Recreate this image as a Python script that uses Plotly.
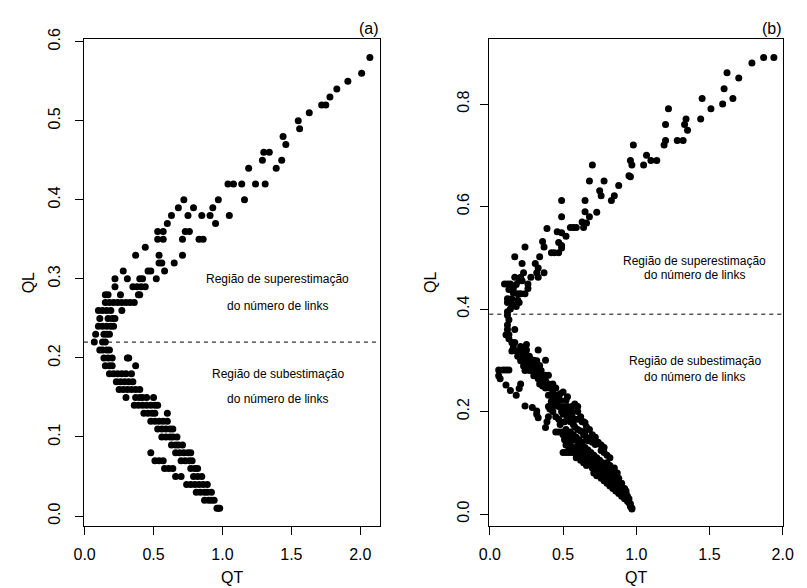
import plotly.graph_objects as go

# ---------------- Panel (a): QL levels and the QT values read on each level
rows_a_lower = [
    (0.01, [0.96, 0.97, 0.98]),
    (0.02, [0.87, 0.90, 0.92, 0.94]),
    (0.03, [0.81, 0.84, 0.87, 0.89, 0.92]),
    (0.04, [0.74, 0.77, 0.80, 0.83, 0.86, 0.89]),
    (0.05, [0.66, 0.70, 0.79, 0.82, 0.85]),
    (0.06, [0.58, 0.61, 0.64, 0.77, 0.80, 0.82]),
    (0.07, [0.51, 0.54, 0.57, 0.70, 0.73, 0.76, 0.78]),
    (0.08, [0.48, 0.66, 0.69, 0.72, 0.75, 0.77]),
    (0.09, [0.63, 0.66, 0.68, 0.71]),
    (0.10, [0.56, 0.59, 0.62, 0.64, 0.67]),
    (0.11, [0.53, 0.56, 0.59, 0.62, 0.64]),
    (0.12, [0.48, 0.51, 0.54, 0.57, 0.60]),
    (0.13, [0.43, 0.46, 0.49, 0.51, 0.60]),
    (0.14, [0.36, 0.39, 0.42, 0.45, 0.48, 0.51, 0.53]),
    (0.15, [0.30, 0.37, 0.40, 0.42, 0.45, 0.50]),
    (0.16, [0.25, 0.28, 0.31, 0.34, 0.37, 0.40]),
    (0.17, [0.23, 0.26, 0.29, 0.32, 0.35]),
    (0.18, [0.18, 0.21, 0.24, 0.27, 0.30, 0.34]),
    (0.19, [0.15, 0.18, 0.20, 0.37]),
    (0.20, [0.14, 0.17, 0.20, 0.31, 0.32]),
    (0.21, [0.11, 0.13, 0.16, 0.18]),
]
rows_a_bend = [
    (0.22, [0.07, 0.13, 0.15]),
    (0.23, [0.08, 0.14, 0.16, 0.18]),
    (0.24, [0.10, 0.13, 0.16, 0.19, 0.21]),
    (0.25, [0.11, 0.17, 0.20, 0.22]),
    (0.26, [0.10, 0.13, 0.16, 0.19, 0.27]),
    (0.27, [0.15, 0.18, 0.21, 0.24, 0.27, 0.30, 0.33, 0.36]),
    (0.28, [0.15, 0.17, 0.26, 0.39, 0.40]),
    (0.29, [0.22, 0.35, 0.38, 0.41, 0.44]),
    (0.30, [0.22, 0.31, 0.40, 0.42, 0.52]),
    (0.31, [0.28, 0.46, 0.48, 0.58]),
]
rows_a_upper = [
    (0.32, [0.54, 0.56, 0.65]),
    (0.33, [0.37, 0.54, 0.71]),
    (0.34, [0.44]),
    (0.35, [0.53, 0.57, 0.71, 0.83, 0.86]),
    (0.36, [0.53, 0.57, 0.73, 0.76]),
    (0.37, [0.60, 0.95]),
    (0.38, [0.63, 0.75, 0.85, 0.91, 1.05]),
    (0.39, [0.68, 0.79, 0.93]),
    (0.40, [0.72, 0.97, 1.16]),
    (0.42, [1.04, 1.08, 1.14, 1.24, 1.31]),
    (0.44, [1.19, 1.39]),
    (0.45, [1.29, 1.43]),
    (0.46, [1.30, 1.34]),
    (0.47, [1.46]),
    (0.48, [1.44]),
    (0.49, [1.56]),
    (0.50, [1.55]),
    (0.51, [1.63]),
    (0.52, [1.72, 1.75]),
    (0.53, [1.78]),
    (0.54, [1.83]),
    (0.55, [1.91]),
    (0.56, [2.01]),
    (0.58, [2.07]),
]

# ---------------- Panel (b): (QT, QL) points
pts_b_upper = [
    (1.94, 0.891), (1.87, 0.891), (1.79, 0.880), (1.62, 0.861), (1.70, 0.851),
    (1.60, 0.830), (1.45, 0.811), (1.66, 0.811), (1.59, 0.800), (1.51, 0.791),
    (1.22, 0.791), (1.44, 0.771), (1.34, 0.771), (1.33, 0.760), (1.20, 0.760),
    (1.35, 0.749), (1.28, 0.729), (1.32, 0.729), (1.20, 0.729), (1.19, 0.720),
    (0.98, 0.720), (1.14, 0.690), (1.10, 0.690), (1.07, 0.700), (1.05, 0.681),
    (0.96, 0.690), (0.97, 0.681), (0.95, 0.660), (0.96, 0.658), (0.88, 0.641),
    (0.85, 0.621), (0.83, 0.612), (0.78, 0.650), (0.70, 0.681), (0.68, 0.650),
    (0.76, 0.621), (0.75, 0.631), (0.65, 0.612), (0.73, 0.589), (0.65, 0.590),
    (0.49, 0.612), (0.49, 0.580), (0.68, 0.580), (0.63, 0.570), (0.66, 0.568),
    (0.64, 0.559), (0.57, 0.559), (0.59, 0.559), (0.55, 0.559),
]
pts_b_bend = [
    (0.52, 0.542), (0.49, 0.549), (0.46, 0.551), (0.47, 0.530), (0.49, 0.524),
    (0.49, 0.519), (0.47, 0.510), (0.44, 0.510), (0.42, 0.510), (0.39, 0.557),
    (0.36, 0.532), (0.37, 0.521), (0.34, 0.502), (0.31, 0.489), (0.33, 0.480),
    (0.24, 0.521), (0.17, 0.502), (0.22, 0.489), (0.37, 0.471), (0.32, 0.471),
    (0.33, 0.462), (0.28, 0.462), (0.23, 0.471), (0.17, 0.462), (0.21, 0.462),
    (0.26, 0.449), (0.26, 0.440), (0.10, 0.449), (0.12, 0.449), (0.14, 0.449),
    (0.16, 0.440), (0.19, 0.430), (0.21, 0.430), (0.24, 0.430), (0.12, 0.420),
    (0.15, 0.420), (0.19, 0.417), (0.16, 0.432), (0.13, 0.438), (0.18, 0.448),
    (0.20, 0.455), (0.22, 0.455),
    (0.12, 0.413), (0.15, 0.410), (0.18, 0.405), (0.20, 0.413), (0.14, 0.400),
    (0.12, 0.395), (0.12, 0.388), (0.13, 0.379), (0.12, 0.369), (0.12, 0.360),
    (0.17, 0.360), (0.11, 0.350), (0.13, 0.350), (0.13, 0.342), (0.15, 0.335),
    (0.17, 0.335), (0.16, 0.326), (0.21, 0.327), (0.25, 0.331), (0.15, 0.318),
    (0.18, 0.318), (0.21, 0.318), (0.23, 0.318), (0.33, 0.320), (0.25, 0.320),
    (0.19, 0.308), (0.22, 0.308), (0.25, 0.308), (0.27, 0.308), (0.21, 0.299),
    (0.24, 0.299), (0.27, 0.299), (0.30, 0.300), (0.32, 0.299), (0.38, 0.300),
    (0.23, 0.289), (0.26, 0.289), (0.29, 0.289), (0.33, 0.289), (0.24, 0.280),
    (0.27, 0.280), (0.29, 0.280), (0.31, 0.280), (0.35, 0.280), (0.30, 0.270),
    (0.34, 0.290),
]
pts_b_hook = [
    (0.06, 0.281), (0.09, 0.281), (0.11, 0.281), (0.13, 0.281), (0.06, 0.270),
    (0.07, 0.264), (0.11, 0.252), (0.14, 0.241), (0.21, 0.254), (0.20, 0.245),
    (0.18, 0.232),
]
pts_b_lower = [
    (0.32, 0.271), (0.35, 0.271), (0.38, 0.271), (0.40, 0.271), (0.33, 0.264),
    (0.36, 0.264), (0.34, 0.254), (0.40, 0.254), (0.43, 0.254), (0.38, 0.246),
    (0.41, 0.246), (0.45, 0.246), (0.40, 0.232), (0.43, 0.232), (0.46, 0.232),
    (0.45, 0.222), (0.48, 0.222), (0.52, 0.222), (0.50, 0.238), (0.53, 0.229),
    (0.24, 0.211), (0.29, 0.208), (0.32, 0.201), (0.40, 0.210), (0.43, 0.210),
    (0.47, 0.210), (0.50, 0.210), (0.53, 0.210), (0.56, 0.210), (0.60, 0.210),
    (0.49, 0.200), (0.53, 0.200), (0.56, 0.200), (0.58, 0.215),
    (0.36, 0.250), (0.38, 0.260), (0.43, 0.240), (0.48, 0.235), (0.46, 0.215),
    (0.42, 0.220), (0.43, 0.200), (0.45, 0.190), (0.47, 0.185),
    (0.32, 0.195), (0.33, 0.188), (0.41, 0.205), (0.40, 0.190), (0.39, 0.180),
    (0.38, 0.169), (0.50, 0.195), (0.53, 0.190), (0.56, 0.193), (0.58, 0.185),
    (0.60, 0.185), (0.62, 0.190), (0.63, 0.180), (0.65, 0.178), (0.45, 0.160),
    (0.47, 0.160), (0.49, 0.160), (0.50, 0.155), (0.53, 0.149), (0.55, 0.139),
    (0.62, 0.162), (0.64, 0.155), (0.66, 0.150), (0.67, 0.143), (0.65, 0.160),
    (0.69, 0.145), (0.70, 0.140), (0.72, 0.136), (0.50, 0.120), (0.52, 0.120),
    (0.54, 0.120), (0.56, 0.120), (0.58, 0.130), (0.60, 0.125), (0.62, 0.120),
    (0.64, 0.115), (0.59, 0.110), (0.61, 0.110), (0.65, 0.110), (0.66, 0.105),
    (0.68, 0.100), (0.70, 0.100), (0.72, 0.097), (0.74, 0.095), (0.68, 0.110),
    (0.76, 0.124), (0.78, 0.120), (0.80, 0.115), (0.82, 0.110), (0.74, 0.090),
    (0.75, 0.085), (0.77, 0.080), (0.78, 0.078), (0.83, 0.090), (0.84, 0.085),
    (0.86, 0.080), (0.80, 0.070), (0.82, 0.065), (0.84, 0.060), (0.86, 0.060),
    (0.87, 0.065), (0.88, 0.055), (0.89, 0.050), (0.90, 0.047), (0.91, 0.045),
    (0.92, 0.038), (0.93, 0.032), (0.94, 0.028), (0.95, 0.022), (0.96, 0.020),
    (0.97, 0.012), (0.97, 0.010), (0.60, 0.200), (0.64, 0.180), (0.66, 0.170),
    (0.68, 0.165), (0.70, 0.155), (0.72, 0.150), (0.74, 0.140), (0.76, 0.135),
    (0.78, 0.130), (0.80, 0.100), (0.82, 0.095), (0.85, 0.090), (0.87, 0.080),
    (0.88, 0.070), (0.90, 0.060), (0.92, 0.050), (0.93, 0.040), (0.95, 0.030),
    (0.96, 0.015),
    (0.52, 0.135), (0.54, 0.130), (0.56, 0.128), (0.58, 0.120), (0.60, 0.115),
    (0.62, 0.105), (0.64, 0.100), (0.66, 0.095), (0.70, 0.090), (0.72, 0.088),
    (0.71, 0.080), (0.73, 0.075), (0.76, 0.070), (0.78, 0.065), (0.80, 0.060),
    (0.82, 0.055), (0.84, 0.050), (0.86, 0.045), (0.88, 0.040), (0.90, 0.035),
    (0.92, 0.030), (0.94, 0.025), (0.52, 0.165), (0.55, 0.160), (0.57, 0.155),
    (0.59, 0.150), (0.61, 0.145), (0.63, 0.140), (0.65, 0.130), (0.67, 0.125),
    (0.69, 0.120), (0.71, 0.115), (0.73, 0.110), (0.75, 0.105), (0.77, 0.100),
    (0.79, 0.090), (0.81, 0.085), (0.83, 0.078), (0.85, 0.070), (0.87, 0.060),
    (0.89, 0.055), (0.91, 0.050), (0.93, 0.045), (0.94, 0.035), (0.58, 0.170),
    (0.60, 0.165), (0.55, 0.180), (0.57, 0.175),
    (0.58, 0.145), (0.60, 0.140), (0.62, 0.135), (0.64, 0.128), (0.66, 0.120),
    (0.68, 0.115), (0.70, 0.110), (0.72, 0.105), (0.74, 0.100), (0.76, 0.092),
    (0.78, 0.090), (0.80, 0.082), (0.82, 0.076), (0.84, 0.070), (0.86, 0.068),
    (0.54, 0.155), (0.56, 0.145), (0.51, 0.145), (0.48, 0.175), (0.51, 0.180),
]

threshold_a = 0.22
threshold_b = 0.39
xticks = [0.0, 0.5, 1.0, 1.5, 2.0]
yticks_a = [0.0, 0.1, 0.2, 0.3, 0.4, 0.5, 0.6]
yticks_b = [0.0, 0.2, 0.4, 0.6, 0.8]
label_over = ["Região de superestimação", "do número de links"]
label_under = ["Região de subestimação", "do número de links"]

# ---------------- assemble
qt_a, ql_a = [], []
for rows in (rows_a_lower, rows_a_bend, rows_a_upper):
    for lvl, xs in rows:
        for v in xs:
            qt_a.append(v)
            ql_a.append(lvl)
qt_b, ql_b = [], []
for pts in (pts_b_upper, pts_b_bend, pts_b_hook, pts_b_lower):
    for xv, yv in pts:
        qt_b.append(xv)
        ql_b.append(yv)

W, H = 807, 588
FONT = "Liberation Sans, Arial, sans-serif"

fig = go.Figure()
mk = dict(color="black", size=7, line=dict(width=0))
fig.add_trace(go.Scatter(x=qt_a, y=ql_a, mode="markers", marker=mk,
                         xaxis="x", yaxis="y", showlegend=False, hoverinfo="skip"))
fig.add_trace(go.Scatter(x=qt_b, y=ql_b, mode="markers", marker=mk,
                         xaxis="x2", yaxis="y2", showlegend=False, hoverinfo="skip"))

common = dict(showline=True, linecolor="black", linewidth=1, mirror=True,
              ticks="outside", ticklen=8, tickwidth=1, tickcolor="black",
              showgrid=False, zeroline=False, tickformat=".1f",
              tickfont=dict(family=FONT, size=16, color="black"))

ydom = [1 - 525 / H, 1 - 29 / H]
fig.update_layout(
    width=W, height=H, margin=dict(l=0, r=0, t=0, b=0),
    paper_bgcolor="white", plot_bgcolor="white",
    xaxis=dict(common, domain=[75 / W, 379.3 / W], range=[-0.005, 2.143],
               tickvals=xticks, anchor="y", ticklabelstandoff=6),
    yaxis=dict(common, domain=ydom, range=[-0.0128, 0.6028],
               tickvals=yticks_a, tickangle=-90, anchor="x", ticklabelstandoff=9),
    xaxis2=dict(common, domain=[491.7 / W, 794 / W], range=[-0.004, 2.0047],
                tickvals=xticks, anchor="y2", ticklabelstandoff=6),
    yaxis2=dict(common, domain=ydom, range=[-0.0236, 0.926],
                tickvals=yticks_b, tickangle=-90, anchor="x2", ticklabelstandoff=5),
)

fig.add_shape(type="line", xref="x domain", x0=0, x1=1, yref="y",
              y0=threshold_a, y1=threshold_a,
              line=dict(color="black", width=1, dash="4px,4px"))
fig.add_shape(type="line", xref="x2 domain", x0=0, x1=1, yref="y2",
              y0=threshold_b, y1=threshold_b,
              line=dict(color="black", width=1, dash="4px,4px"))

def txt(x, y, s, xref, yref, size=12, family=FONT, angle=0,
        xanchor="center", yanchor="middle"):
    fig.add_annotation(x=x, y=y, xref=xref, yref=yref, text=s, showarrow=False,
                       textangle=angle, xanchor=xanchor, yanchor=yanchor,
                       font=dict(family=family, size=size, color="black"))

# region labels (a)
txt(1.40, 0.300, label_over[0], "x", "y")
txt(1.40, 0.266, label_over[1], "x", "y")
txt(1.40, 0.180, label_under[0], "x", "y")
txt(1.40, 0.148, label_under[1], "x", "y")
# region labels (b)
txt(1.40, 0.494, label_over[0], "x2", "y2")
txt(1.40, 0.466, label_over[1], "x2", "y2")
txt(1.40, 0.298, label_under[0], "x2", "y2")
txt(1.40, 0.267, label_under[1], "x2", "y2")

# axis titles
txt(18 / W, 1 - 277 / H, "QL", "paper", "paper", size=16, angle=-90)
txt(432 / W, 1 - 277 / H, "QL", "paper", "paper", size=16, angle=-90)
txt(227 / W, 1 - 577 / H, "QT", "paper", "paper", size=16)
txt(643 / W, 1 - 577 / H, "QT", "paper", "paper", size=16)
# panel tags
txt(380 / W, 1 - 29 / H, "(a)", "paper", "paper", size=16,
    xanchor="right", yanchor="bottom")
txt(795 / W, 1 - 29 / H, "(b)", "paper", "paper", size=16,
    xanchor="right", yanchor="bottom")

fig.write_html("out.html")
